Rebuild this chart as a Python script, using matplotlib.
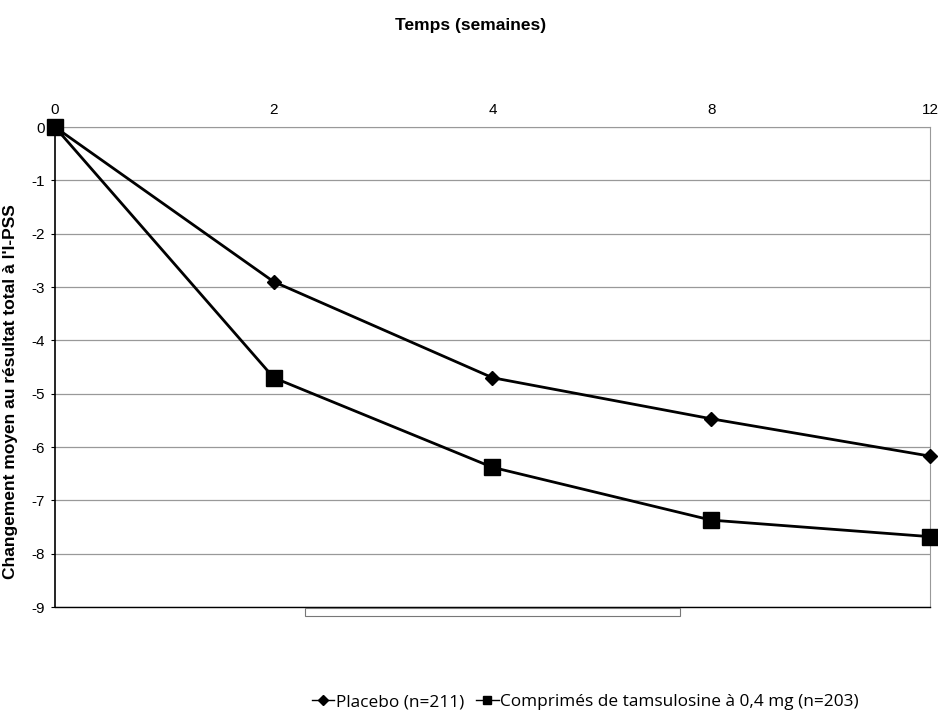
import matplotlib
matplotlib.use("Agg")
import matplotlib.pyplot as plt
from matplotlib.lines import Line2D
from matplotlib.patches import Rectangle

# données
semaines = ["0", "2", "4", "8", "12"]
placebo = [0, -2.9, -4.7, -5.47, -6.17]
tamsulosine = [0, -4.7, -6.38, -7.37, -7.68]
yticks = [0, -1, -2, -3, -4, -5, -6, -7, -8, -9]

plt.rcParams['font.family'] = ['Liberation Sans', 'DejaVu Sans']

fig = plt.figure(figsize=(9.38, 7.15), dpi=100)
ax = fig.add_axes([0.0586, 0.151, 0.9328, 0.6713])

x = list(range(len(semaines)))
ax.plot(x, placebo, color="black", lw=2, marker="D", ms=7, clip_on=False, zorder=3)
ax.plot(x, tamsulosine, color="black", lw=2, marker="s", ms=11, clip_on=False, zorder=3)

ax.set_xlim(0, 4)
ax.set_ylim(-9, 0)
ax.set_xticks(x)
ax.set_xticklabels(semaines)
ax.xaxis.tick_top()
ax.tick_params(axis="x", length=0, labelsize=11, pad=7)
ax.set_yticks(yticks)
ax.set_yticklabels([str(v) for v in yticks])
ax.tick_params(axis="y", length=3, labelsize=11, pad=4)
ax.grid(axis="y", color="#999999", lw=0.9)
for s in ["top", "right"]:
    ax.spines[s].set_color("#999999")
    ax.spines[s].set_linewidth(0.8)
ax.spines["left"].set_linewidth(1.2)
ax.spines["bottom"].set_linewidth(1.0)

ax.set_ylabel("Changement moyen au résultat total à l'I-PSS", fontsize=12.5,
              fontweight="bold")
ax.yaxis.set_label_coords(-0.042, 0.448)
fig.text(0.502, 0.965, "Temps (semaines)", ha="center", va="center",
         fontsize=12.5, fontweight="bold")

# reste de cadre de légende sous l'axe
fig.patches.append(Rectangle((305 / 938, 1 - 616 / 715), 375 / 938, 8 / 715,
                             transform=fig.transFigure, fill=False,
                             edgecolor="#777777", lw=0.8))

handles = [
    Line2D([], [], color="black", lw=1, marker="D", ms=5),
    Line2D([], [], color="black", lw=1, marker="s", ms=6),
]
fig.legend(handles, ["Placebo (n=211)", "Comprimés de tamsulosine à 0,4 mg (n=203)"],
           loc="center", bbox_to_anchor=(0.624, 0.018), ncol=2, frameon=False,
           handlelength=1.3, handletextpad=0.1, columnspacing=0.7,
           prop={'family': ['Open Sans', 'DejaVu Sans'], 'size': 12.4})

fig.savefig("out.png", dpi=100)
